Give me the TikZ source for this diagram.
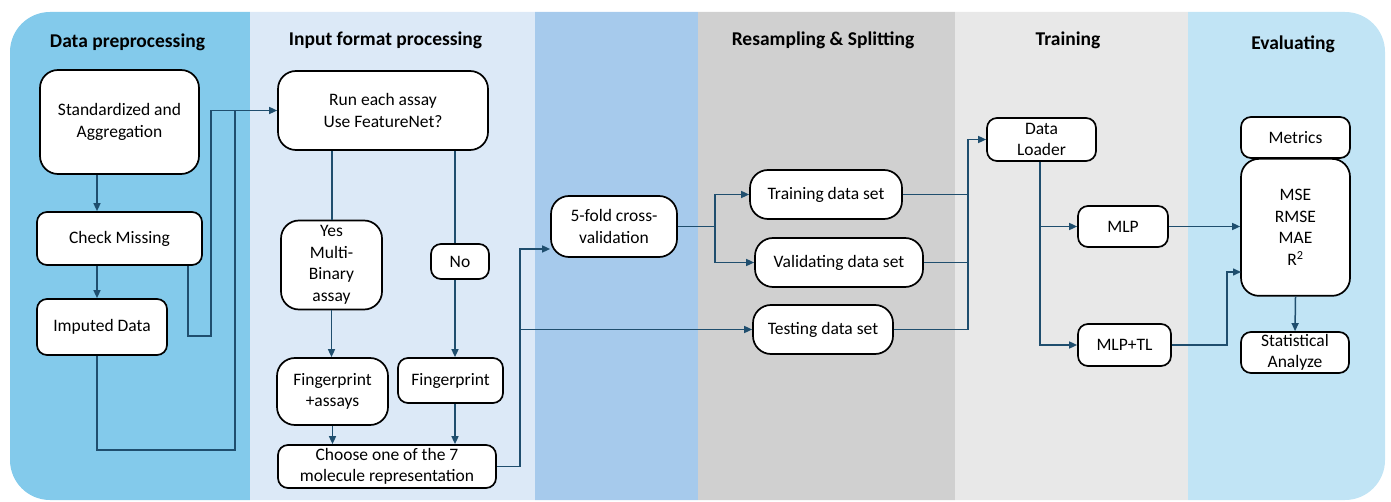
\documentclass[tikz,border=0pt]{standalone}
\usepackage{fontspec}
\setmainfont{Carlito}
\usetikzlibrary{arrows.meta}

\definecolor{bandA}{HTML}{83CAEB}
\definecolor{bandB}{HTML}{DCE9F7}
\definecolor{bandC}{HTML}{A6CAEC}
\definecolor{bandD}{HTML}{D0D0D0}
\definecolor{bandE}{HTML}{E8E8E8}
\definecolor{bandF}{HTML}{C1E4F5}
\definecolor{wire}{HTML}{1F4E6E}

\tikzset{
  box/.style={draw=black, line width=1.7pt, fill=white, rounded corners=10pt,
    align=center, inner sep=0pt, font=\fontsize{17.5}{21.5}\selectfont},
  bigbox/.style={box, rounded corners=18pt},
  title/.style={font=\bfseries\fontsize{19.5}{23}\selectfont},
  wireline/.style={draw=wire, line width=1.5pt},
  conn/.style={wireline, -{Triangle[length=8pt,width=7pt]}},
}

\begin{document}
\begin{tikzpicture}[x=1pt,y=-1pt]
\useasboundingbox (0,0) rectangle (1391,502);

% column bands inside a rounded outline
\begin{scope}
  \clip[rounded corners=40pt] (10,12) rectangle (1385,500);
  \fill[bandA] (0,0) rectangle (250,502);
  \fill[bandB] (250,0) rectangle (535,502);
  \fill[bandC] (535,0) rectangle (698,502);
  \fill[bandD] (698,0) rectangle (955,502);
  \fill[bandE] (955,0) rectangle (1188,502);
  \fill[bandF] (1188,0) rectangle (1391,502);
\end{scope}

% column headings
\node[title] (hA) at (127.5,42) {Data preprocessing};
\node[title] (hB) at (385.5,40) {Input format processing};
\node[title] (hD) at (823,40) {Resampling \& Splitting};
\node[title] (hE) at (1068,40) {Training};
\node[title] (hF) at (1293,44) {Evaluating};

% data preprocessing
\node[bigbox, minimum width=159pt, minimum height=104pt] (std) at (119.5,122) {Standardized and\\Aggregation};
\node[box, minimum width=165pt, minimum height=53pt] (check) at (119.5,238.5) {Check Missing};
\node[box, minimum width=130pt, minimum height=56pt] (imp) at (102,327) {Imputed Data};

% input format processing
\node[bigbox, minimum width=210pt, minimum height=79pt] (run) at (383,110.5) {Run each assay\\Use FeatureNet?};
\node[bigbox, minimum width=101pt, minimum height=89pt] (yes) at (331.5,265) {Yes\\Multi-\\Binary\\assay};
\node[box, minimum width=58pt, minimum height=35pt] (no) at (460,261.5) {No};
\node[bigbox, minimum width=111pt, minimum height=67pt] (fpa) at (332.5,391.5) {Fingerprint\\+assays};
\node[box, minimum width=105pt, minimum height=45pt] (fp) at (450.5,380.5) {Fingerprint};
\node[box, minimum width=218pt, minimum height=43pt] (choose) at (387,466.5) {Choose one of the 7\\molecule representation};

% cross-validation and splitting
\node[bigbox, minimum width=126pt, minimum height=61pt] (fold) at (614,226.5) {5-fold cross-\\validation};
\node[bigbox, minimum width=152pt, minimum height=49pt] (train) at (826,194.5) {Training data set};
\node[bigbox, minimum width=168pt, minimum height=49pt] (valid) at (839,262.5) {Validating data set};
\node[bigbox, minimum width=140pt, minimum height=49pt] (test) at (823,329.5) {Testing data set};

% training
\node[box, minimum width=109pt, minimum height=43pt] (loader) at (1041.5,139.5) {Data\\Loader};
\node[box, minimum width=90pt, minimum height=41pt] (mlp) at (1123,226.5) {MLP};
\node[box, minimum width=93pt, minimum height=42pt] (mlptl) at (1124.5,345) {MLP+TL};

% evaluating
\node[bigbox, minimum width=109pt, minimum height=137pt, anchor=north] (mse) at (1295.5,158)
  {MSE\\RMSE\\MAE\\R\textsuperscript{2}};
\node[box, minimum width=109pt, minimum height=41pt] (metrics) at (1295.5,137.5) {Metrics};
\node[box, minimum width=108pt, minimum height=41pt] (stat) at (1295,352.5) {Statistical\\Analyze};

% preprocessing flow
\draw[conn] ([xshift=-22.5pt]std.south) -- ([xshift=-22.5pt]check.north);
\draw[conn] ([xshift=-22.5pt]check.south) -- ([xshift=-5pt]imp.north);
\draw[conn] ([xshift=68.5pt]check.south) -- (188,336) -- (211,336) -- (211,110.5) -- (run.west);
\draw[wireline] ([xshift=-5pt]imp.south) -- (97,450) -- (235,450) -- (235,110.5);

% input format flow
\draw[wireline] ([xshift=-51pt]run.south) -- ([xshift=0.5pt]yes.north);
\draw[wireline] ([xshift=72pt]run.south) -- ([xshift=-5pt]no.north);
\draw[conn] (yes.south) -- (yes.south |- fpa.north);
\draw[conn] ([xshift=-5pt]no.south) -- ([xshift=4.5pt]fp.north);
\draw[conn] (fpa.south) -- (fpa.south |- choose.north);
\draw[conn] ([xshift=4.5pt]fp.south) -- ([xshift=4.5pt]fp.south |- choose.north);
\draw[conn] (choose.east) -- (520,466.5) -- (520,249) -- ([yshift=-22.5pt]fold.west);
\draw[conn] (520,329.5) -- (test.west);

% splitting flow
\draw[conn] (fold.east) -- (715,226.5) |- (train.west);
\draw[conn] (715,226.5) |- (valid.west);
\draw[wireline] (train.east) -- (968,194.5);
\draw[wireline] (valid.east) -- (968,262.5);
\draw[conn] (test.east) -| (968,139.5) -- (loader.west);

% training flow
\draw[conn] ([xshift=-1.5pt]loader.south) |- (mlptl.west);
\draw[conn] (1040,226.5) -- (mlp.west);
\draw[conn] (mlp.east) -- (mlp.east -| mse.west);
\draw[conn] (mlptl.east) -- (1227,345) -- (1227,272) -- (1241,272);
\draw[conn] (mse.south) -- (stat.north);
\end{tikzpicture}
\end{document}
